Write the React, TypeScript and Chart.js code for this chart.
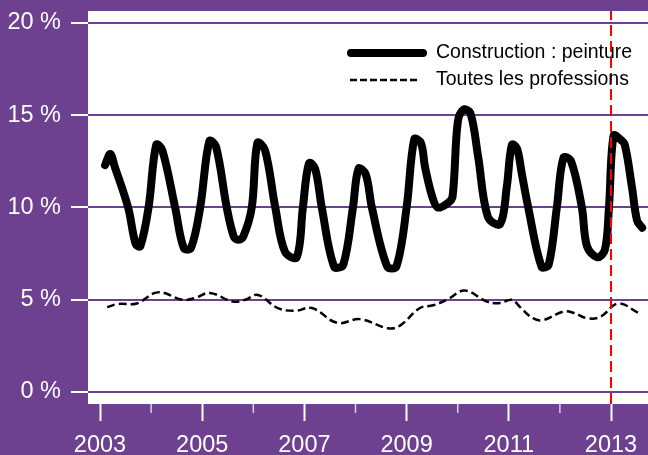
import React, { useEffect, useRef } from "react";
import { Chart, registerables } from "chart.js";

Chart.register(...registerables);

// ---- Data ----
const paintLabel = "Construction : peinture";
const allLabel = "Toutes les professions";

const paintT = [
  2003.10, 2003.20, 2003.29, 2003.55, 2003.70, 2003.79, 2003.95,
  2004.10, 2004.22, 2004.47, 2004.64, 2004.78, 2004.96,
  2005.14, 2005.27, 2005.48, 2005.62, 2005.70, 2005.80, 2005.97,
  2006.08, 2006.23, 2006.43, 2006.62, 2006.85, 2006.97,
  2007.09, 2007.21, 2007.34, 2007.58, 2007.76, 2007.95,
  2008.06, 2008.20, 2008.32, 2008.62, 2008.80, 2009.00,
  2009.15, 2009.28, 2009.36, 2009.50, 2009.61, 2009.81, 2009.90,
  2010.00, 2010.11, 2010.25, 2010.40, 2010.59, 2010.83, 2010.96,
  2011.06, 2011.16, 2011.25, 2011.38, 2011.64, 2011.78, 2011.94,
  2012.07, 2012.22, 2012.43, 2012.53, 2012.73, 2012.88, 2012.96,
  2013.05, 2013.18, 2013.27, 2013.41, 2013.51, 2013.61,
];
const paintV = [
  12.3, 12.9, 12.2, 10.0, 8.0, 7.9, 10.0,
  13.4, 13.1, 10.0, 7.8, 7.8, 10.0,
  13.6, 13.3, 10.0, 8.4, 8.25, 8.4, 10.0,
  13.5, 13.1, 10.0, 7.6, 7.3, 10.0,
  12.4, 12.1, 10.0, 6.8, 6.9, 10.0,
  12.1, 11.8, 10.0, 6.8, 6.8, 10.0,
  13.7, 13.5, 12.2, 10.6, 10.0, 10.25, 10.6,
  14.6, 15.3, 15.1, 12.75, 9.5, 9.1, 11.1,
  13.4, 13.2, 11.9, 10.0, 6.8, 6.9, 10.0,
  12.7, 12.5, 10.0, 7.9, 7.3, 7.7, 10.0,
  13.9, 13.7, 13.4, 11.1, 9.3, 8.9,
];

const allT = [
  2003.14, 2003.35, 2003.72, 2004.13, 2004.62, 2004.86, 2005.15, 2005.60,
  2005.84, 2006.09, 2006.48, 2006.82, 2007.15, 2007.64, 2008.09, 2008.64,
  2008.87, 2009.26, 2009.52, 2009.79, 2010.14, 2010.57, 2010.83, 2011.06,
  2011.22, 2011.47, 2011.67, 2012.06, 2012.26, 2012.53, 2012.79, 2013.14,
  2013.53,
];
const allV = [
  4.6, 4.77, 4.8, 5.4, 5.0, 5.1, 5.37, 4.9,
  5.0, 5.26, 4.55, 4.4, 4.55, 3.75, 3.95, 3.45,
  3.6, 4.55, 4.7, 5.0, 5.5, 4.9, 4.82, 5.0,
  4.6, 4.0, 3.9, 4.35, 4.3, 4.0, 4.07, 4.8,
  4.3,
];

const yTicks = [0, 5, 10, 15, 20];
const xMajorYears = [2003, 2005, 2007, 2009, 2011, 2013];
const xMinorYears = [2004, 2006, 2008, 2010, 2012];
const markerYear = 2013;

const X_MIN = 2002.765;
const X_MAX = 2013.724;
const Y_MIN = -0.65;
const Y_MAX = 20.65;

const PURPLE = "#6D418F";
const FONT = '"Liberation Sans", Arial, sans-serif';

const bgPlugin = {
  id: "bgPlugin",
  beforeDraw(chart: any) {
    const { ctx, chartArea: a, width, height } = chart;
    ctx.save();
    ctx.fillStyle = PURPLE;
    ctx.fillRect(0, 0, width, height);
    ctx.fillStyle = "#ffffff";
    ctx.fillRect(a.left, a.top, a.right - a.left, a.bottom - a.top);
    ctx.restore();
  },
};

const minorTickPlugin = {
  id: "minorTicks",
  afterDraw(chart: any) {
    const { ctx, chartArea: a } = chart;
    const xs = chart.scales.x;
    ctx.save();
    ctx.strokeStyle = "rgba(255,255,255,0.75)";
    ctx.lineWidth = 1.5;
    for (const yr of xMinorYears) {
      const px = xs.getPixelForValue(yr);
      ctx.beginPath();
      ctx.moveTo(px, a.bottom);
      ctx.lineTo(px, a.bottom + 9);
      ctx.stroke();
    }
    ctx.restore();
  },
};

const legendPlugin = {
  id: "customLegend",
  afterDraw(chart: any) {
    const { ctx, chartArea: a } = chart;
    const ds = chart.data.datasets;
    const items = [ds[1], ds[2]];
    ctx.save();
    ctx.font = `19.5px ${FONT}`;
    ctx.textBaseline = "middle";
    ctx.fillStyle = "#000";
    items.forEach((d: any, i: number) => {
      const y = a.top + 42 + i * 27;
      ctx.beginPath();
      ctx.strokeStyle = d.borderColor;
      ctx.lineWidth = i === 0 ? 8 : 2.5;
      ctx.lineCap = i === 0 ? "round" : "butt";
      ctx.setLineDash(i === 0 ? [] : [7, 3]);
      ctx.moveTo(a.right - (i === 0 ? 297 : 298), y);
      ctx.lineTo(a.right - (i === 0 ? 225 : 228), y);
      ctx.stroke();
      ctx.setLineDash([]);
      ctx.fillText(d.label, a.right - 212, y);
    });
    ctx.restore();
  },
};

const noPad = (s: any) => {
  s.paddingTop = 0;
  s.paddingBottom = 0;
  s.paddingLeft = 0;
  s.paddingRight = 0;
};

export default function App() {
  const ref = useRef<HTMLCanvasElement | null>(null);

  useEffect(() => {
    document.body.style.margin = "0";
    const canvas = ref.current;
    if (!canvas) return;
    const chart = new Chart(canvas, {
      type: "line",
      data: {
        datasets: [
          {
            label: "2013",
            data: [
              { x: markerYear, y: Y_MIN },
              { x: markerYear, y: Y_MAX },
            ],
            borderColor: "#FF0000",
            borderWidth: 2,
            borderDash: [11, 5],
            pointRadius: 0,
          },
          {
            label: paintLabel,
            data: paintT.map((t, i) => ({ x: t, y: paintV[i] })),
            borderColor: "#000000",
            borderWidth: 8,
            borderCapStyle: "round",
            borderJoinStyle: "round",
            tension: 0.35,
            pointRadius: 0,
          },
          {
            label: allLabel,
            data: allT.map((t, i) => ({ x: t, y: allV[i] })),
            borderColor: "#000000",
            borderWidth: 2.5,
            borderDash: [8, 4],
            tension: 0.4,
            pointRadius: 0,
          },
        ],
      },
      options: {
        responsive: false,
        animation: false,
        devicePixelRatio: 1,
        layout: { padding: { top: 11, left: 0, right: 0, bottom: 0 } },
        plugins: {
          legend: { display: false },
          tooltip: { enabled: false },
        },
        scales: {
          x: {
            type: "linear",
            min: X_MIN,
            max: X_MAX,
            afterBuildTicks: (s: any) => {
              s.ticks = xMajorYears.map((v) => ({ value: v }));
            },
            afterFit: (s: any) => {
              s.height = 51;
              noPad(s);
            },
            border: { display: false },
            grid: {
              drawOnChartArea: false,
              drawTicks: true,
              tickLength: 17,
              tickColor: "#ffffff",
              tickWidth: 2,
              color: "#ffffff",
            },
            ticks: {
              color: "#ffffff",
              font: { family: FONT, size: 23.5 },
              padding: 10,
              maxRotation: 0,
              autoSkip: false,
              callback: (v: any) => String(v),
            },
          },
          y: {
            type: "linear",
            min: Y_MIN,
            max: Y_MAX,
            afterBuildTicks: (s: any) => {
              s.ticks = yTicks.map((v) => ({ value: v }));
            },
            afterFit: (s: any) => {
              s.width = 88;
              noPad(s);
            },
            border: { display: false },
            grid: {
              color: PURPLE,
              lineWidth: 2,
              tickLength: 17,
              tickColor: "#ffffff",
              tickWidth: 2,
            },
            ticks: {
              color: "#ffffff",
              font: { family: FONT, size: 23.5 },
              padding: 10,
              autoSkip: false,
              callback: (v: any) => `${v} %`,
            },
          },
        },
      } as any,
      plugins: [bgPlugin, minorTickPlugin, legendPlugin],
    });
    return () => chart.destroy();
  }, []);

  return (
    <div style={{ width: 648, height: 455, background: PURPLE }}>
      <canvas ref={ref} width={648} height={455} style={{ display: "block" }} />
    </div>
  );
}
